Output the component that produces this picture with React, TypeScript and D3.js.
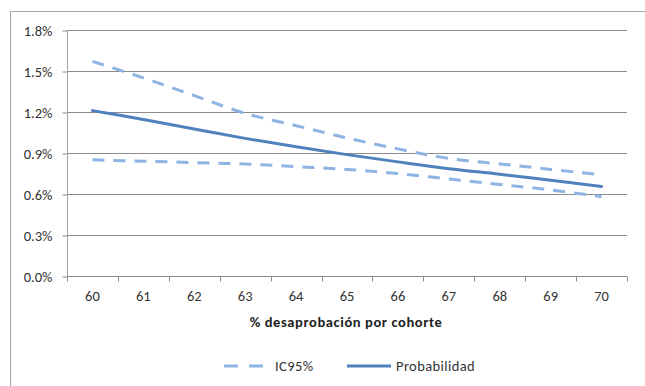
import { useEffect, useRef } from "react";
import * as d3 from "d3";

const categories = ["60", "61", "62", "63", "64", "65", "66", "67", "68", "69", "70"];
const probabilidad = [1.21, 1.145, 1.075, 1.007, 0.945, 0.888, 0.835, 0.785, 0.745, 0.7, 0.655];
const icUpper = [1.57, 1.45, 1.32, 1.19, 1.1, 1.01, 0.93, 0.86, 0.82, 0.78, 0.74];
const icLower = [0.85, 0.84, 0.83, 0.82, 0.8, 0.78, 0.75, 0.71, 0.67, 0.63, 0.58];
const yTicks = [0, 0.3, 0.6, 0.9, 1.2, 1.5, 1.8];

const font = "Carlito, 'Liberation Sans', 'DejaVu Sans', sans-serif";
const fs = 14.5;

export default function App() {
  const svgRef = useRef<SVGSVGElement | null>(null);

  useEffect(() => {
    if (!svgRef.current) return;
    const svg = d3.select(svgRef.current);
    svg.selectAll("*").remove();

    const left = 67;
    const right = 627;
    const top = 30;
    const bottom = 276;

    // outer chart frame, clipped by window
    svg
      .append("rect")
      .attr("x", 10.5)
      .attr("y", 11.5)
      .attr("width", 700)
      .attr("height", 500)
      .attr("fill", "white")
      .attr("stroke", "#a6a6a6");

    const x = d3.scaleBand().domain(categories).range([left, right]);
    const y = d3.scaleLinear().domain([0, 1.8]).range([bottom, top]);

    // gridlines
    svg
      .append("g")
      .selectAll("line")
      .data(yTicks.filter((t) => t > 0))
      .enter()
      .append("line")
      .attr("x1", left)
      .attr("x2", right)
      .attr("y1", (d) => Math.round(y(d)) + 0.5)
      .attr("y2", (d) => Math.round(y(d)) + 0.5)
      .attr("stroke", "#8c8c8c");

    // y axis
    const yAxis = svg
      .append("g")
      .attr("transform", `translate(${left + 0.5},0.5)`)
      .call(
        d3
          .axisLeft(y)
          .tickValues(yTicks)
          .tickSize(5)
          .tickFormat((d) => `${(d as number).toFixed(1)}%`)
      );
    yAxis.select(".domain").attr("stroke", "#a6a6a6").attr("d", `M0,${top}V${bottom}`);
    yAxis.selectAll(".tick line").attr("stroke", "#8c8c8c");
    yAxis
      .selectAll(".tick text")
      .attr("font-family", font)
      .attr("font-size", fs)
      .attr("fill", "#333")
      .attr("x", -15);

    // x axis
    const xAxis = svg
      .append("g")
      .attr("transform", `translate(0,${bottom + 0.5})`)
      .call(d3.axisBottom(x).tickSize(0).tickPadding(14));
    xAxis.select(".domain").attr("stroke", "#8c8c8c").attr("d", `M${left},0H${right}`);
    xAxis
      .selectAll(".tick text")
      .attr("font-family", font)
      .attr("font-size", fs)
      .attr("fill", "#333");
    const bounds = categories.map((c) => x(c) as number).concat([right]);
    xAxis
      .append("g")
      .selectAll("line")
      .data(bounds)
      .enter()
      .append("line")
      .attr("x1", (d) => Math.round(d) + 0.5)
      .attr("x2", (d) => Math.round(d) + 0.5)
      .attr("y1", 0)
      .attr("y2", 5)
      .attr("stroke", "#8c8c8c");

    svg
      .append("text")
      .attr("x", 346)
      .attr("y", 327)
      .attr("text-anchor", "middle")
      .attr("font-family", font)
      .attr("font-size", fs)
      .attr("font-weight", "bold")
      .attr("letter-spacing", 0.6)
      .attr("fill", "#222")
      .text("% desaprobación por cohorte");

    const line = d3
      .line<number>()
      .x((_, i) => (x(categories[i]) as number) + x.bandwidth() / 2)
      .y((d) => y(d))
      .curve(d3.curveCatmullRom.alpha(0.5));

    const dashColor = "#8eb4e3";
    const solidColor = "#4f81bd";

    [icUpper, icLower].forEach((s) => {
      svg
        .append("path")
        .attr("d", line(s))
        .attr("fill", "none")
        .attr("stroke", dashColor)
        .attr("stroke-width", 3)
        .attr("stroke-dasharray", "12,9");
    });

    svg
      .append("path")
      .attr("d", line(probabilidad))
      .attr("fill", "none")
      .attr("stroke", solidColor)
      .attr("stroke-width", 3)
      .attr("stroke-linecap", "round");

    // legend
    const ly = 366;
    svg
      .append("line")
      .attr("x1", 224)
      .attr("x2", 266)
      .attr("y1", ly)
      .attr("y2", ly)
      .attr("stroke", dashColor)
      .attr("stroke-width", 3)
      .attr("stroke-dasharray", "14,11");
    svg
      .append("text")
      .attr("x", 275)
      .attr("y", ly + 5)
      .attr("font-family", font)
      .attr("font-size", fs)
      .attr("letter-spacing", 0.4)
      .attr("fill", "#333")
      .text("IC95%");
    svg
      .append("line")
      .attr("x1", 347)
      .attr("x2", 391)
      .attr("y1", ly)
      .attr("y2", ly)
      .attr("stroke", solidColor)
      .attr("stroke-width", 3);
    svg
      .append("text")
      .attr("x", 396)
      .attr("y", ly + 5)
      .attr("font-family", font)
      .attr("font-size", fs)
      .attr("letter-spacing", 0.4)
      .attr("fill", "#333")
      .text("Probabilidad");
  }, []);

  return (
    <svg
      ref={svgRef}
      width={645}
      height={386}
      style={{ position: "absolute", left: 0, top: 0, background: "white" }}
    ></svg>
  );
}
